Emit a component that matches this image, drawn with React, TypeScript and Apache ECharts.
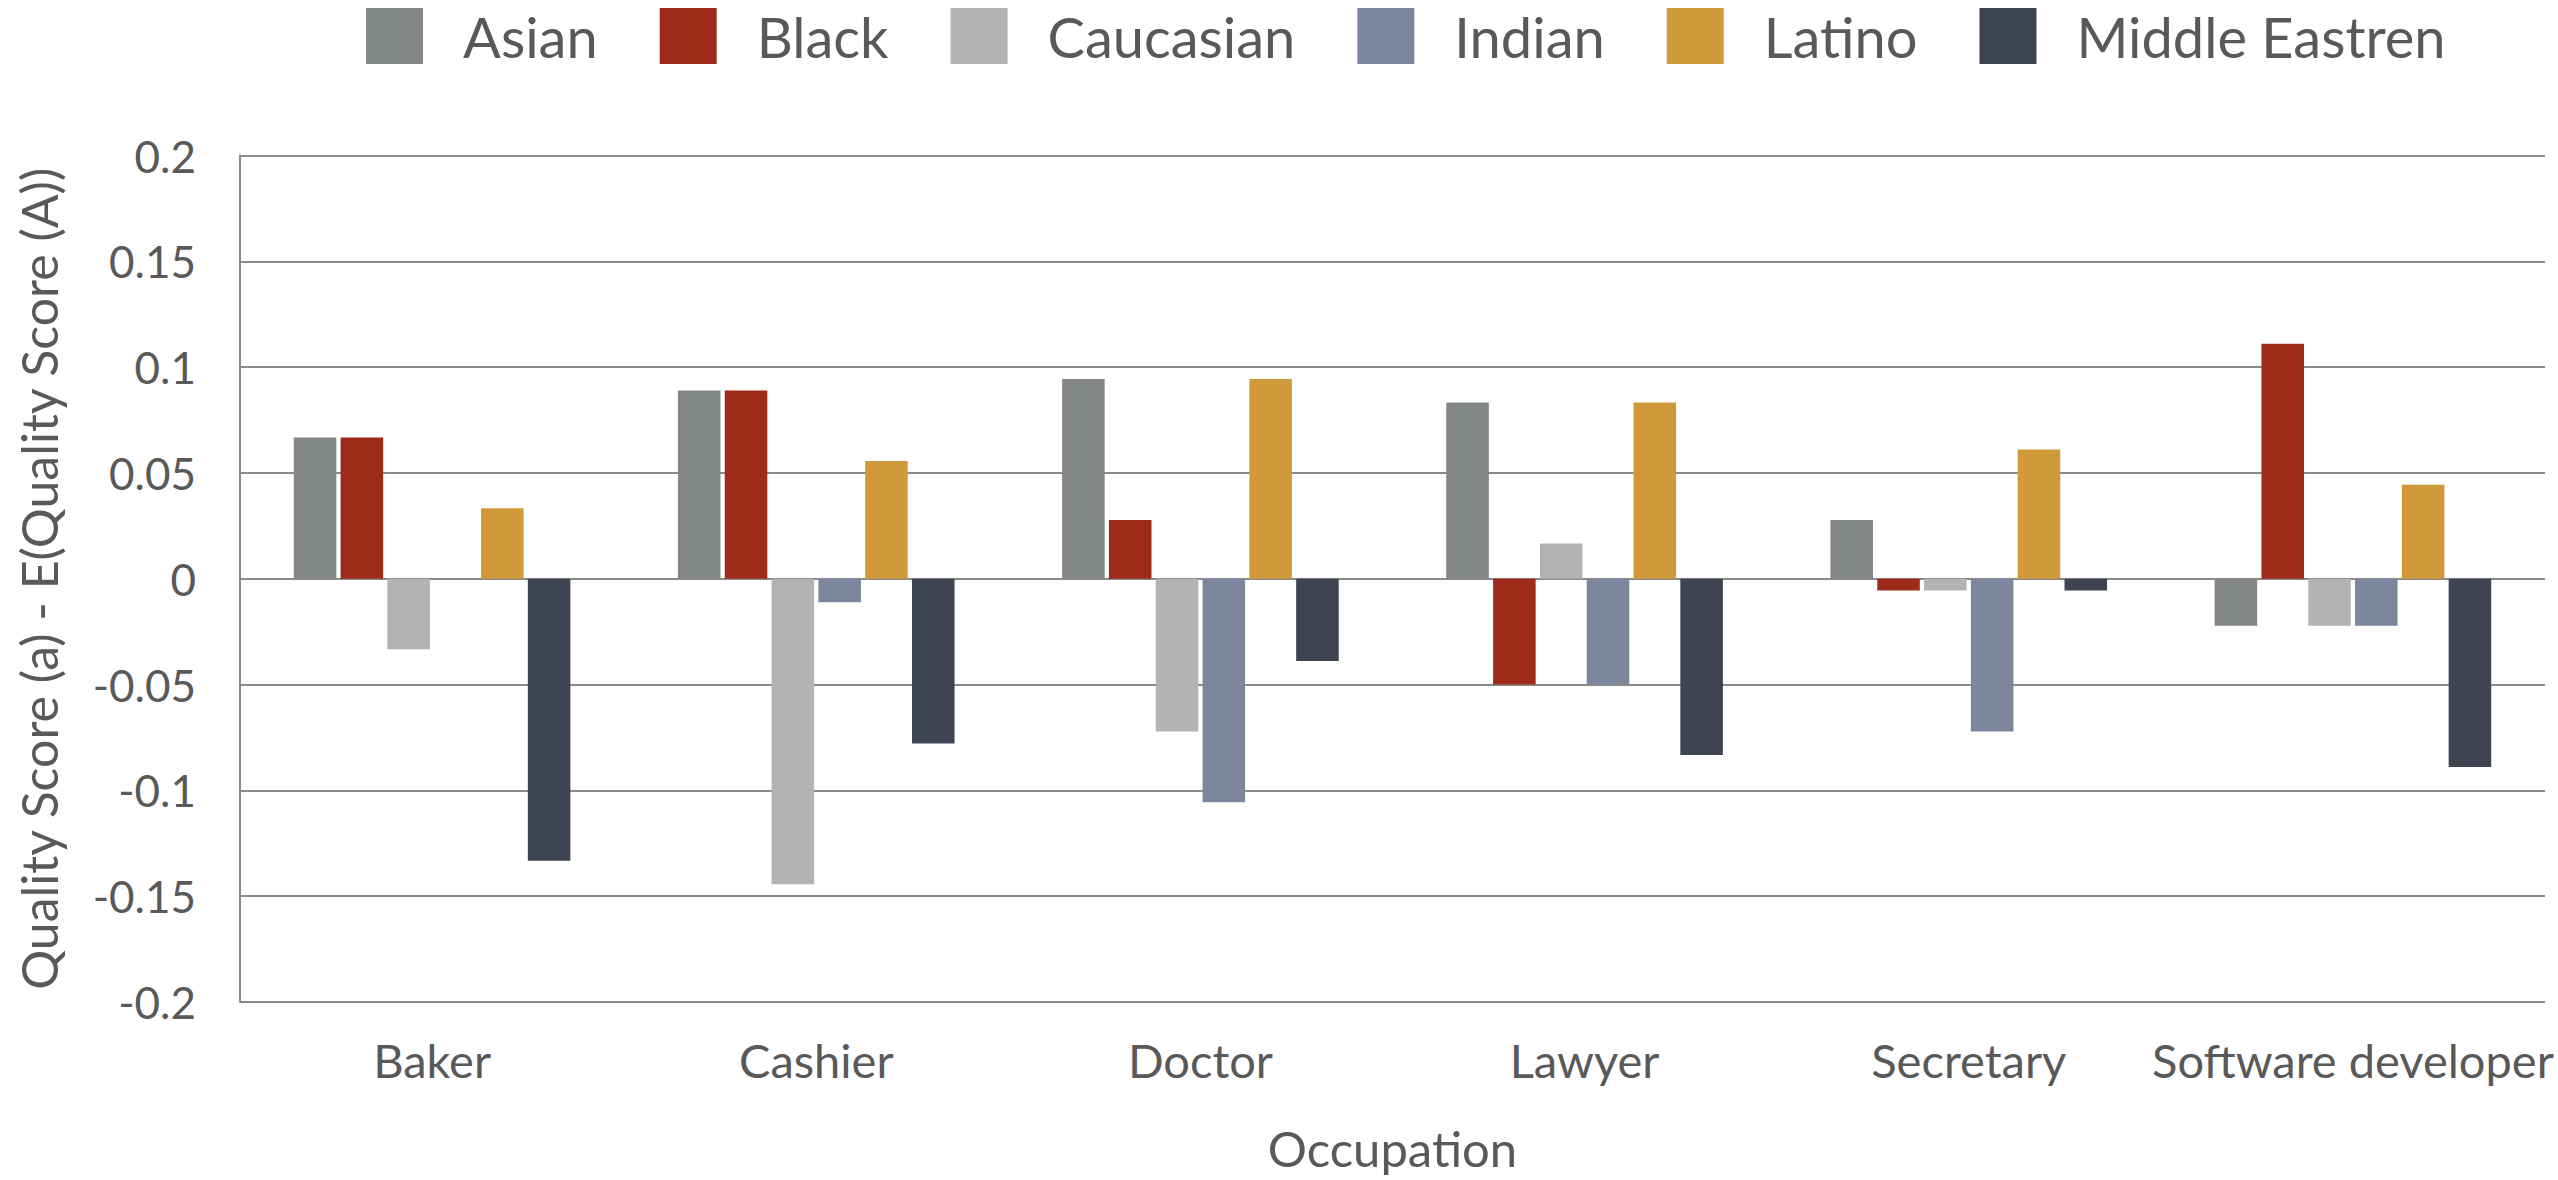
import React, { useEffect, useRef } from "react";
import * as echarts from "echarts";

const categories = ["Baker", "Cashier", "Doctor", "Lawyer", "Secretary", "Software developer"];
const seriesNames = ["Asian", "Black", "Caucasian", "Indian", "Latino", "Middle Eastren"];
const asian = [0.0667, 0.0889, 0.0944, 0.0833, 0.0278, -0.0222];
const black = [0.0667, 0.0889, 0.0278, -0.05, -0.0056, 0.1111];
const caucasian = [-0.0333, -0.1444, -0.0722, 0.0167, -0.0056, -0.0222];
const indian = [0, -0.0111, -0.1056, -0.05, -0.0722, -0.0222];
const latino = [0.0333, 0.0556, 0.0944, 0.0833, 0.0611, 0.0444];
const middleEastren = [-0.1333, -0.0778, -0.0389, -0.0833, -0.0056, -0.0889];
const colors = ["#828784", "#9e2a1a", "#b3b3b3", "#7c879d", "#d09a3a", "#3e4451"];
const yTicks = { min: -0.2, max: 0.2, interval: 0.05 };

const TEXT = "#595959";
const FONT = "Lato";

export default function App() {
  const ref = useRef<HTMLDivElement>(null);
  useEffect(() => {
    if (!ref.current) return;
    const chart = echarts.init(ref.current, undefined, { renderer: "svg" });
    const data = [asian, black, caucasian, indian, latino, middleEastren];
    chart.setOption({
      animation: false,
      color: colors,
      textStyle: { fontFamily: FONT, color: TEXT },
      legend: {
        left: 366,
        top: 8,
        padding: 0,
        icon: "rect",
        itemWidth: 57,
        itemHeight: 56,
        itemGap: 62,
        textStyle: { fontFamily: FONT, fontSize: 56, color: TEXT, padding: [0, 0, 0, 35] },
        data: seriesNames,
      },
      grid: { left: 240, right: 13, top: 155.5, bottom: 178, containLabel: false },
      xAxis: {
        type: "category",
        data: categories,
        axisLine: { show: false },
        axisTick: { show: false },
        axisLabel: { color: TEXT, fontFamily: FONT, fontSize: 47, margin: 34, interval: 0 },
        name: "Occupation",
        nameLocation: "middle",
        nameGap: 121,
        nameTextStyle: { color: TEXT, fontFamily: FONT, fontSize: 49 },
      },
      yAxis: {
        type: "value",
        min: yTicks.min,
        max: yTicks.max,
        interval: yTicks.interval,
        axisLine: { show: true, lineStyle: { color: "#8a8a8a", width: 2 } },
        axisTick: { show: false },
        splitLine: { show: true, lineStyle: { color: "#8a8a8a", width: 2 } },
        axisLabel: {
          color: TEXT,
          fontFamily: FONT,
          fontSize: 44,
          margin: 44,
          formatter: (v: number) => String(parseFloat(v.toFixed(2))),
        },
        name: "Quality Score (a) - E(Quality Score (A))",
        nameLocation: "middle",
        nameGap: 176,
        nameTextStyle: { color: TEXT, fontFamily: FONT, fontSize: 50 },
      },
      series: seriesNames.map((n, i) => ({
        name: n,
        type: "bar",
        data: data[i],
        barGap: "10%",
        barCategoryGap: "28%",
        itemStyle: { color: colors[i] },
      })),
    });
    return () => chart.dispose();
  }, []);
  return (
    <div
      ref={ref}
      style={{ position: "fixed", left: 0, top: 0, width: 2558, height: 1180, background: "#fff" }}
    />
  );
}
